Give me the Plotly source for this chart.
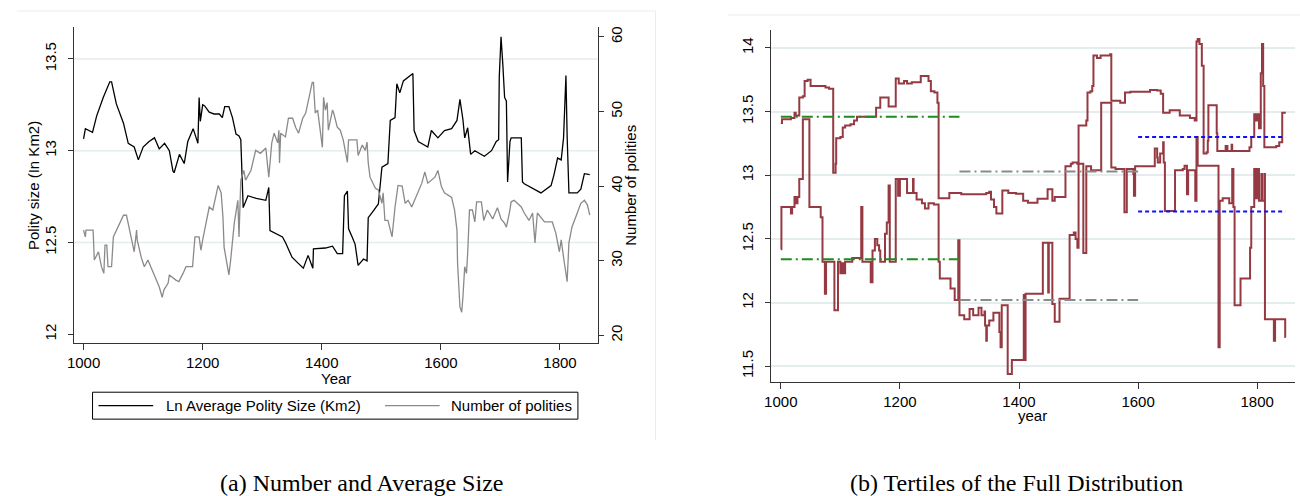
import plotly.graph_objects as go

# ---------------- data ----------------
# Panel (a): Ln average polity size (left axis) and number of polities (right axis)
size_years = [1000,1003,1015,1022,1033,1044,1047,1055,1067,1075,1085,1092,1100,1110,1119,1127,1136,1144,1150,1152,
              1161,1169,1175,1184,1192,1194,1196,1200,1203,1211,1219,1228,1233,1237,1244,1250,1256,1261,1264,1266,
              1267,1268,1276,1290,1306,1311,1313,1322,1334,1339,1350,1361,1369,1377,1385,1386,1406,1418,1426,1435,
              1438,1443,1445,1451,1456,1461,1470,1476,1478,1486,1495,1501,1511,1515,1523,1526,1531,1537,1553,1555,
              1562,1578,1584,1595,1606,1618,1627,1632,1637,1640,1645,1650,1657,1673,1685,1693,1697,1698,1701,1704,
              1707,1710,1712,1716,1718,1735,1737,1740,1757,1768,1785,1790,1796,1802,1806,1808,1810,1812,1815,1829,
              1835,1841,1846,1850]
size_vals = [13.065,13.12,13.10,13.19,13.29,13.375,13.375,13.255,13.15,13.04,13.02,12.95,13.02,13.05,13.07,13.01,13.04,13.00,12.89,12.88,
             12.98,12.93,13.05,13.12,13.04,13.29,13.16,13.25,13.245,13.21,13.20,13.20,13.18,13.24,13.24,13.18,13.09,13.08,13.06,12.87,
             12.77,12.69,12.755,12.74,12.73,12.80,12.565,12.55,12.53,12.50,12.42,12.385,12.36,12.43,12.36,12.465,12.47,12.48,12.44,12.44,
             12.755,12.78,12.575,12.53,12.49,12.375,12.41,12.40,12.635,12.67,12.71,12.91,12.93,13.165,13.18,13.365,13.315,13.38,13.42,13.11,
             13.05,13.02,13.11,13.07,13.11,13.12,13.165,13.28,13.17,13.07,13.125,12.98,13.00,12.97,13.00,13.05,13.06,13.40,13.62,13.47,
             13.29,13.27,12.83,13.05,13.07,13.07,12.83,12.82,12.79,12.77,12.81,12.87,12.96,12.95,13.07,13.31,13.41,13.08,12.77,12.77,
             12.79,12.875,12.87,12.87]

num_years = [1000,1003,1004,1016,1018,1025,1030,1034,1036,1039,1041,1047,1050,1055,1061,1067,1072,1075,1080,1085,
             1089,1090,1097,1102,1108,1117,1122,1127,1132,1135,1142,1144,1155,1160,1167,1172,1183,1187,1194,1197,
             1200,1205,1211,1217,1226,1231,1234,1236,1242,1244,1247,1253,1259,1261,1264,1269,1272,1281,1289,1297,
             1306,1311,1316,1320,1326,1328,1329,1331,1339,1344,1351,1356,1361,1368,1373,1378,1384,1386,1389,1393,
             1395,1398,1401,1403,1406,1409,1411,1418,1420,1426,1431,1436,1440,1443,1445,1459,1461,1468,1473,1476,
             1478,1481,1490,1495,1501,1503,1506,1511,1518,1523,1528,1535,1540,1545,1551,1556,1562,1568,1573,1578,
             1590,1595,1601,1606,1618,1623,1627,1628,1632,1635,1637,1640,1643,1645,1648,1653,1657,1660,1668,1672,
             1678,1687,1695,1701,1707,1710,1715,1718,1723,1735,1740,1748,1754,1758,1762,1774,1787,1793,1799,1802,
             1807,1812,1815,1820,1829,1835,1841,1846,1850]
num_vals = [34.1,33.2,34.1,34.1,30.1,31.2,29.2,28.3,32.1,32.1,29.2,29.2,33.2,34.1,35.2,36.1,36.1,35.0,32.8,31.2,
            34.1,32.8,30.4,29.2,30.1,28.5,27.4,26.5,25.1,26.1,27.0,28.1,27.4,27.2,28.3,29.2,29.2,33.2,33.2,31.4,
            32.8,35.0,37.2,36.8,40.1,39.1,35.9,31.8,29.2,28.1,30.1,35.0,38.1,33.2,40.8,42.1,40.8,42.1,44.8,44.4,
            45.1,41.2,45.8,47.1,45.8,47.5,43.1,47.1,46.6,49.1,49.1,47.9,47.1,49.1,49.8,51.8,53.9,53.9,49.8,50.2,
            48.8,47.5,45.2,51.9,50.2,51.2,47.5,50.2,49.8,47.9,47.5,46.2,44.1,43.2,46.2,46.2,44.1,45.5,44.8,45.9,
            43.1,41.2,39.7,39.5,37.7,39.1,35.4,35.4,33.2,37.2,40.1,40.0,37.7,38.1,37.2,38.1,39.1,40.4,41.9,40.4,
            41.2,42.1,39.9,39.1,38.5,36.8,34.1,29.7,23.8,23.1,25.1,29.2,28.3,31.0,36.8,36.8,35.2,37.9,37.9,35.4,
            36.8,35.6,37.1,35.6,35.0,34.5,36.4,37.9,38.1,37.2,36.4,35.4,36.4,32.4,36.4,35.2,35.2,33.7,31.2,32.8,
            29.9,27.2,32.4,34.5,36.4,37.7,38.1,37.5,36.1]

# Panel (b): tertiles of the full distribution (step series)
upper_years = [1000,1002,1017,1023,1025,1031,1037,1040,1045,1050,1075,1081,1088,1092,1093,1100,1104,1108,1117,1123,
               1128,1160,1167,1181,1193,1198,1207,1212,1220,1235,1248,1252,1258,1263,1265,1283,1303,1345,1350,1353,
               1358,1362,1372,1382,1395,1407,1415,1431,1448,1456,1460,1478,1487,1490,1498,1500,1513,1515,1520,1523,
               1525,1531,1537,1553,1555,1570,1578,1587,1620,1632,1638,1642,1653,1670,1687,1695,1698,1700,1703,1707,
               1710,1715,1717,1718,1732,1733,1747,1750,1757,1758,1787,1790,1795,1798,1800,1803,1806,1808,1810,1812,
               1832,1837,1842,1848]
upper_vals = [13.41,13.44,13.45,13.49,13.47,13.61,13.62,13.74,13.75,13.70,13.69,13.68,13.02,13.09,13.29,13.30,13.375,13.39,13.40,13.43,
              13.46,13.53,13.61,13.54,13.76,13.72,13.74,13.72,13.73,13.78,13.74,13.66,13.65,13.57,12.82,12.86,12.85,12.86,12.87,12.81,
              12.75,12.70,12.88,12.86,12.855,12.80,12.785,12.815,12.89,12.80,12.83,13.07,13.09,13.10,13.09,13.39,13.43,13.65,13.66,13.70,
              13.94,13.92,13.94,13.95,13.585,13.57,13.65,13.655,13.67,13.665,13.64,13.49,13.51,13.47,13.45,13.43,14.05,14.07,14.03,13.86,
              13.17,13.18,13.27,13.55,13.33,13.19,13.23,13.19,13.24,13.19,13.22,13.30,13.48,13.43,13.48,13.37,13.80,14.03,13.70,13.22,
              13.23,13.26,13.49,13.49]

lower_years = [1000,1001,1017,1019,1023,1025,1028,1031,1037,1048,1067,1070,1074,1076,1090,1096,1100,1103,1106,1108,
               1120,1135,1137,1151,1154,1158,1162,1165,1167,1175,1178,1181,1183,1193,1197,1200,1212,1222,1223,1228,
               1237,1242,1248,1257,1265,1267,1285,1292,1298,1300,1308,1317,1323,1332,1337,1342,1343,1345,1346,1350,
               1357,1367,1369,1371,1381,1388,1408,1409,1411,1440,1449,1450,1456,1460,1468,1485,1492,1495,1498,1500,
               1508,1513,1521,1538,1555,1562,1577,1581,1592,1593,1595,1628,1632,1633,1637,1642,1643,1645,1662,1675,
               1678,1682,1684,1696,1698,1700,1735,1737,1742,1753,1758,1760,1762,1772,1788,1790,1795,1798,1800,1803,
               1807,1808,1812,1813,1828,1830,1847,1848]
lower_vals = [12.42,12.75,12.70,12.75,12.83,12.78,12.83,12.97,13.44,12.75,12.67,12.32,12.07,12.32,11.94,12.32,12.23,12.31,12.23,12.32,
              12.35,12.75,12.32,12.16,12.41,12.50,12.45,12.41,12.32,12.54,12.63,12.92,12.32,12.97,12.84,12.97,12.86,12.97,12.86,12.81,
              12.78,12.74,12.78,12.77,12.32,12.19,12.11,12.02,12.49,11.90,11.87,11.95,11.90,11.96,11.90,11.93,11.82,11.70,11.82,11.86,
              11.92,11.77,11.65,11.98,11.44,11.55,12.06,11.55,12.07,12.47,12.08,12.47,11.99,11.85,12.03,12.53,12.55,12.50,12.43,13.09,
              12.39,13.07,13.04,13.57,13.06,13.05,12.71,13.05,13.01,12.84,13.07,13.21,13.14,13.10,13.17,13.26,13.10,12.72,13.04,13.05,
              13.075,12.85,13.04,12.80,13.30,13.075,11.65,12.80,12.82,12.78,13.05,12.75,11.98,12.19,12.43,12.75,13.05,12.82,13.05,12.80,
              13.01,12.80,13.01,11.87,11.70,11.87,11.73,11.73]

# period tertile references (start, end, upper, lower)
period_1 = [1000, 1300]
period_1_vals = [13.46, 12.34]
period_2 = [1300, 1600]
period_2_vals = [13.03, 12.02]
period_3 = [1600, 1847]
period_3_vals = [13.30, 12.715]

x_ticks = [1000, 1200, 1400, 1600, 1800]
size_ticks = [12, 12.5, 13, 13.5]
num_ticks = [20, 30, 40, 50, 60]
tert_ticks = [11.5, 12, 12.5, 13, 13.5, 14]

legend_labels = ["Ln Average Polity Size (Km2)", "Number of polities"]
left_ytitle = "Polity size (In Km2)"
right_ytitle = "Number of polities"
left_xtitle = "Year"
right_xtitle = "year"
captions = ["(a) Number and Average Size", "(b) Tertiles of the Full Distribution"]

# ---------------- figure ----------------
W, H = 1300, 496
def px(x):
    return x / W
def py(y):
    return 1 - y / H

SANS = "Liberation Sans, Arial, sans-serif"
SERIF = "Liberation Serif, Times New Roman, serif"
AX = "#333333"
GRID = "#e4ecee"
MAROON = "#953a42"

fig = go.Figure()

fig.add_trace(go.Scatter(x=size_years, y=size_vals, mode="lines", name=legend_labels[0],
                         line=dict(color="black", width=1.3), xaxis="x", yaxis="y", showlegend=False))
fig.add_trace(go.Scatter(x=num_years, y=num_vals, mode="lines", name=legend_labels[1],
                         line=dict(color="#8a8a8a", width=1.3), xaxis="x", yaxis="y2", showlegend=False))

fig.add_trace(go.Scatter(x=upper_years, y=upper_vals, mode="lines", line_shape="hv",
                         line=dict(color=MAROON, width=2), xaxis="x2", yaxis="y3", showlegend=False))
fig.add_trace(go.Scatter(x=lower_years, y=lower_vals, mode="lines", line_shape="hv",
                         line=dict(color=MAROON, width=2), xaxis="x2", yaxis="y3", showlegend=False))

ref_styles = [("#1e8c1e", "11px,4px,2px,4px"), ("#8a8a8a", "11px,4px,2px,4px"), ("#1010ff", "4px,3px")]
for (per, vals), (col, dash) in zip([(period_1, period_1_vals), (period_2, period_2_vals), (period_3, period_3_vals)], ref_styles):
    for v in vals:
        fig.add_trace(go.Scatter(x=per, y=[v, v], mode="lines", line=dict(color=col, width=2, dash=dash),
                                 xaxis="x2", yaxis="y3", showlegend=False))

tickfont = dict(family=SANS, size=15, color="black")
common_x = dict(range=[983.3, 1863.5], tickvals=x_ticks, ticks="outside", ticklen=6, tickwidth=1, tickcolor=AX,
                showline=True, linecolor=AX, linewidth=1, showgrid=False, zeroline=False, tickfont=tickfont)
common_y = dict(ticks="outside", ticklen=5, tickwidth=1, tickcolor=AX, tickangle=-90,
                showline=True, linecolor=AX, linewidth=1, zeroline=False, tickfont=tickfont)

fig.update_layout(
    width=W, height=H, margin=dict(l=0, r=0, t=0, b=0),
    paper_bgcolor="white", plot_bgcolor="white",
    xaxis=dict(domain=[px(67), px(594)], anchor="y", **common_x),
    yaxis=dict(domain=[py(343), py(26)], anchor="x", range=[11.951, 13.674], tickvals=size_ticks,
               ticktext=["12", "12.5", "13", "13.5"], showgrid=False, ticklabelstandoff=6, **common_y),
    yaxis2=dict(overlaying="y", side="right", anchor="x", range=[18.93, 61.34], tickvals=num_ticks,
                showgrid=False, ticklabelstandoff=0, **common_y),
    xaxis2=dict(domain=[px(768), px(1295)], anchor="y3", **common_x),
    yaxis3=dict(domain=[py(382), py(29)], anchor="x2", range=[11.375, 14.141], tickvals=tert_ticks,
                ticktext=["11.5", "12", "12.5", "13", "13.5", "14"], showgrid=True, gridcolor=GRID, gridwidth=1.5,
                ticklabelstandoff=6, **common_y),
)

shapes = []
# left panel grid lines (not at the axis minimum)
for v in [12.5, 13, 13.5]:
    shapes.append(dict(type="line", xref="x domain", yref="y", x0=0, x1=1, y0=v, y1=v,
                       line=dict(color=GRID, width=1.5), layer="below"))
# faint graph-region frames
shapes.append(dict(type="line", xref="paper", yref="paper", x0=px(10), x1=px(652), y0=py(10), y1=py(10),
                   line=dict(color="#e6eeee", width=1)))
shapes.append(dict(type="line", xref="paper", yref="paper", x0=px(652), x1=px(652), y0=py(10), y1=py(440),
                   line=dict(color="#e6eeee", width=1)))
shapes.append(dict(type="line", xref="paper", yref="paper", x0=px(725), x1=px(1300), y0=py(14), y1=py(14),
                   line=dict(color="#e6eeee", width=1)))
# legend box and keys for panel (a)
shapes.append(dict(type="rect", xref="paper", yref="paper", x0=px(86), x1=px(574), y0=py(419), y1=py(392),
                   line=dict(color="black", width=1), fillcolor="white"))
shapes.append(dict(type="line", xref="paper", yref="paper", x0=px(92), x1=px(147), y0=py(405.5), y1=py(405.5),
                   line=dict(color="black", width=1.3)))
shapes.append(dict(type="line", xref="paper", yref="paper", x0=px(380), x1=px(435), y0=py(405.5), y1=py(405.5),
                   line=dict(color="#8a8a8a", width=1.3)))
fig.update_layout(shapes=shapes)

ann = []
def text(t, x, y, size=15, family=SANS, angle=0, xanchor="center", yanchor="middle"):
    ann.append(dict(text=t, x=px(x), y=py(y), xref="paper", yref="paper", showarrow=False,
                    font=dict(family=family, size=size, color="black"), textangle=angle,
                    xanchor=xanchor, yanchor=yanchor))

text(left_ytitle, 26, 184.5, angle=-90)
text(right_ytitle, 626, 184.5, angle=-90)
text(left_xtitle, 330.5, 378)
text(right_xtitle, 1031.5, 415)
text(legend_labels[0], 158, 405.5, xanchor="left")
text(legend_labels[1], 444, 405.5, xanchor="left")
text(captions[0], 356, 483, size=24, family=SERIF)
text(captions[1], 1015, 483, size=24, family=SERIF)
fig.update_layout(annotations=ann)

fig.write_html("out.html")
